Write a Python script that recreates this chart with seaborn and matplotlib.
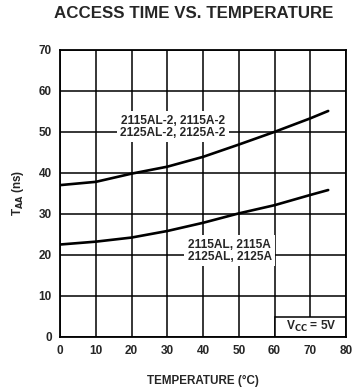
import matplotlib
matplotlib.use("Agg")
import matplotlib.pyplot as plt
from matplotlib.patches import Rectangle
import seaborn as sns
import pandas as pd

# values
temperature = [0, 10, 20, 30, 40, 50, 60, 70, 75]
taa_fast = [22.5, 23.2, 24.2, 25.8, 27.8, 30.1, 32.1, 34.6, 35.8]
taa_slow = [37.0, 37.8, 39.8, 41.5, 43.9, 46.9, 50.0, 53.3, 55.1]
label_fast = "2115AL, 2115A\n2125AL, 2125A"
label_slow = "2115AL-2, 2115A-2\n2125AL-2, 2125A-2"

df = pd.DataFrame({
    "temp": temperature * 2,
    "taa": taa_fast + taa_slow,
    "part": ["fast"] * len(temperature) + ["slow"] * len(temperature),
})

sns.set_style("white")
plt.rcParams["font.family"] = ["Liberation Sans", "DejaVu Sans"]
plt.rcParams["font.weight"] = "bold"

fig = plt.figure(figsize=(3.62, 3.87), dpi=100)
ax = fig.add_axes([0.166, 0.130, 0.790, 0.741])

sns.lineplot(data=df, x="temp", y="taa", units="part", estimator=None,
             color="black", linewidth=1.9, ax=ax, zorder=3)

ax.set_xlim(0, 80)
ax.set_ylim(0, 70)
ax.set_xticks(range(0, 81, 10))
ax.set_yticks(range(0, 71, 10))
ax.grid(True, color="black", linewidth=1.1)
for s in ax.spines.values():
    s.set_color("black")
    s.set_linewidth(1.3)
    s.set_zorder(6)
ax.tick_params(length=0, labelsize=8.5, pad=6)
for t in ax.get_xticklabels() + ax.get_yticklabels():
    t.set_fontweight("bold")

ax.set_xlabel("TEMPERATURE (°C)", fontsize=8.4, fontweight="bold", labelpad=13)
ax.set_ylabel("T$_{\\mathbf{AA}}$ (ns)", fontsize=8.4, fontweight="bold", labelpad=9)

box = dict(facecolor="white", edgecolor="none", pad=2.5)
ax.text(31.5, 51.3, label_slow, ha="center", va="center", fontsize=8.6,
        fontweight="bold", linespacing=1.0, bbox=box, zorder=4)
ax.text(47.5, 21.0, label_fast, ha="center", va="center", fontsize=8.6,
        fontweight="bold", linespacing=1.0, bbox=box, zorder=4)

# supply voltage note in the lower right corner
ax.add_patch(Rectangle((60, 0), 20, 4.8, facecolor="white", edgecolor="black",
                       linewidth=1.1, zorder=5))
ax.text(70.3, 2.5, "V$_{\\mathbf{CC}}$ = 5V", ha="center", va="center",
        fontsize=8.6, fontweight="bold", zorder=6)

fig.text(0.534, 0.964, "ACCESS TIME VS. TEMPERATURE", ha="center", va="center",
         fontsize=12.2, fontweight="bold")

fig.savefig("out.png", dpi=100, facecolor="white")
